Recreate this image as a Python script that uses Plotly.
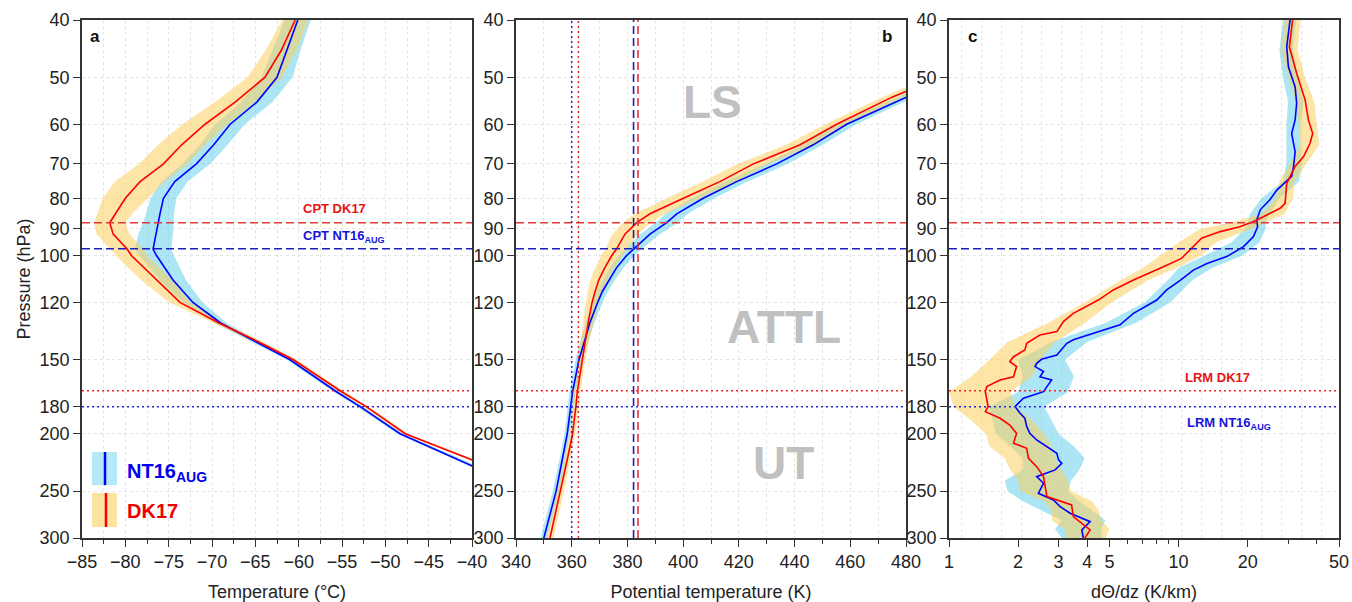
import numpy as np
import plotly.graph_objects as go

# ---------------- data ----------------
pressure_ticks = [40, 50, 60, 70, 80, 90, 100, 120, 150, 180, 200, 250, 300]

# Panel a: temperature (deg C)
p_a = [40, 45, 50, 55, 60, 65, 70, 75, 80, 85, 88, 92, 97.5, 100, 110,
       120, 130, 140, 150, 170, 180, 200, 226, 250, 300]
temp_nt16 = [-60.1, -61.4, -62.5, -64.8, -67.9, -69.8, -71.8, -74.3, -75.6, -76.0,
             -76.2, -76.5, -76.8, -76.4, -74.5, -72.2, -69.0, -64.9, -61.0, -55.6,
             -52.9, -48.3, -40.0, -33.5, -22.0]
temp_dk17 = [-60.4, -62.0, -63.9, -67.3, -70.8, -73.5, -75.6, -78.3, -80.0, -81.2,
             -81.8, -81.4, -79.8, -79.3, -76.4, -73.7, -69.2, -64.6, -60.6, -55.0,
             -52.2, -47.7, -38.4, -32.5, -21.0]
temp_sd_nt16 = [1.5, 1.6, 1.8, 1.8, 1.7, 1.6, 1.6, 1.5, 1.5, 1.6, 1.8, 2.0, 2.1, 2.0, 1.5,
                1.1, 0.7, 0.5, 0.4, 0.35, 0.35, 0.35, 0.35, 0.35, 0.35]
temp_sd_dk17 = [1.5, 1.8, 2.0, 2.3, 2.6, 2.7, 2.8, 2.9, 2.6, 2.0, 1.8, 1.9, 1.9, 1.8, 1.8,
                1.2, 0.6, 0.5, 0.4, 0.3, 0.3, 0.3, 0.3, 0.3, 0.3]

# Panel b: potential temperature (K)
p_b = [50, 54, 60, 65, 70, 75, 80, 85, 88, 92, 97.5, 100, 105, 110, 115, 120, 130, 140,
       150, 170, 180, 200, 220, 250, 300]
theta_nt16 = [496, 480, 458.7, 446.7, 433.6, 419.2, 407.2, 397.7, 394.1, 388.1, 382.1,
              379.7, 376.0, 373.3, 371.0, 369.3, 366.5, 364.5, 362.6, 360.3, 359.7, 358.4,
              356.7, 354.4, 350.0]
theta_dk17 = [492, 475, 455.1, 442.0, 425.2, 413.2, 400.1, 388.1, 383.3, 379.1, 376.1,
              374.4, 371.8, 369.7, 368.4, 367.3, 365.9, 364.8, 363.6, 362.0, 361.5, 360.3,
              358.5, 356.0, 352.2]
theta_sd_nt16 = [3, 3, 3.5, 3.5, 4, 4, 4, 4, 4, 3.5, 3, 2.8, 2.5, 2.2, 2.0, 1.8, 1.6, 1.4,
                 1.2, 1.1, 1.1, 1.0, 1.0, 1.2, 1.2]
theta_sd_dk17 = [3.5, 3.5, 4, 5, 5.5, 6, 6, 5.5, 5, 4.5, 4, 3.8, 3.4, 3, 2.6, 2.2, 1.8, 1.5,
                 1.2, 1.1, 1.1, 1.0, 1.0, 1.2, 1.2]

# Panel c: dTheta/dz (K/km)
p_c_nt16 = [40, 44.4, 48.0, 51.9, 55.3, 59.0, 62.2, 66.8, 70.7, 73.5,
            77.5, 80.5, 83.7, 87.1, 89.4, 92.9, 96.6, 100.4, 103.1, 105.8,
            110.0, 114.3, 118.9, 125.2, 130.9, 134.4, 138.8, 140.7, 147.2, 149.7,
            152.1, 154.0, 157.0, 160.2, 162.3, 166.5, 169.8, 174.2, 180.0, 184.7,
            188.3, 194.5, 199.7, 204.9, 210.2, 215.8, 221.4, 224.4, 230.2, 236.3,
            242.5, 252.1, 258.7, 265.5, 272.4, 281.5, 290.7, 300]
dth_nt16 = [30.6, 29.6, 30.1, 32.2, 32.7, 32.2, 31.1, 32.2, 31.7, 31.1,
            26.8, 25.0, 22.7, 21.9, 22.1, 21.2, 19.2, 16.2, 13.3, 11.6,
            10.2, 8.88, 8.04, 6.36, 5.56, 4.55, 3.48, 3.26, 2.95, 2.53,
            2.41, 2.37, 2.58, 2.49, 2.80, 2.67, 2.58, 2.11, 1.94, 2.04,
            2.14, 2.18, 2.25, 2.41, 2.67, 2.95, 3.00, 3.10, 2.90, 2.41,
            2.58, 2.45, 2.85, 3.05, 3.37, 4.12, 3.79, 3.85]
p_c_dk17 = [40, 44.4, 49.2, 54.6, 59.0, 62.2, 64.6, 68.1, 70.7, 75.5,
            81.6, 83.2, 86.5, 87.6, 89.4, 91.1, 93.5, 97.8, 101.1, 105.1,
            110.0, 114.3, 118.9, 125.2, 129.3, 134.4, 136.2, 140.7, 144.4, 148.2,
            151.1, 154.0, 160.2, 162.3, 166.5, 169.8, 174.2, 180.0, 183.5, 188.3,
            193.3, 199.7, 207.5, 211.6, 220.0, 227.3, 236.3, 245.7, 255.4, 263.8,
            276.1, 290.7, 300]
dth_dk17 = [31.4, 30.4, 32.7, 35.6, 36.8, 38.4, 37.4, 35.0, 32.2, 29.6,
            29.1, 27.7, 22.7, 21.2, 18.5, 15.2, 12.6, 11.2, 10.3, 8.31,
            6.36, 5.20, 4.47, 3.48, 3.15, 2.95, 2.49, 2.18, 2.14, 1.91,
            1.84, 1.97, 1.91, 1.67, 1.46, 1.44, 1.46, 1.48, 1.44, 1.67,
            1.84, 1.97, 1.91, 2.18, 2.22, 2.41, 2.58, 2.62, 2.67, 3.42,
            3.48, 4.12, 3.91]
p_band_c = [40, 45, 50, 55, 60, 65, 70, 75, 80, 85, 88, 90, 95, 100, 105, 110, 120, 130,
            140, 150, 160, 170, 180, 190, 200, 210, 220, 230, 240, 250, 260, 270, 280,
            290, 300]
band_lo_nt16 = [28.5, 27.5, 28.5, 30, 29.5, 29.5, 29.5, 28.5, 23, 20.5, 20, 19.5, 17, 13,
                10, 9, 7.1, 4.8, 2.8, 2.0, 2.1, 2.0, 1.5, 1.55, 1.6, 1.85, 2.1, 2.1, 1.75,
                1.8, 2.1, 2.55, 3.1, 2.9, 3.1]
band_hi_nt16 = [32.5, 31.5, 33, 35, 34, 34, 34.5, 33.5, 27.5, 25, 24, 24, 22.5, 19, 14,
                11.5, 9.2, 6.5, 4.0, 3.2, 3.5, 3.3, 2.6, 2.8, 3.0, 3.5, 3.9, 3.7, 3.4, 3.3,
                3.7, 4.2, 4.8, 4.6, 4.6]
band_lo_dk17 = [29, 28, 30, 32.5, 33.5, 34, 30.5, 27.5, 26.5, 23, 17, 12.5, 10, 8.3, 7.0,
                5.6, 3.9, 2.7, 1.8, 1.5, 1.25, 1.0, 1.05, 1.25, 1.45, 1.5, 1.75, 1.85, 2.0,
                2.05, 2.6, 2.8, 2.8, 3.2, 3.2]
band_hi_dk17 = [34, 33, 35.5, 39, 40, 41, 36, 32, 31.5, 29, 24, 21, 14.5, 12.5, 9.8, 7.4,
                5.1, 3.9, 2.9, 2.5, 2.3, 1.85, 1.95, 2.3, 2.6, 2.8, 2.9, 3.1, 3.3, 3.4, 4.2,
                4.5, 4.6, 5.0, 4.8]

# reference levels
cpt_p = {"DK17": 88.0, "NT16": 97.4}
lrm_p = {"DK17": 169.2, "NT16": 180.0}
cpt_theta = {"DK17": 383.8, "NT16": 382.2}
lrm_theta = {"DK17": 362.4, "NT16": 360.0}

# ---------------- style ----------------
BLUE = "#0000ff"
RED = "#ff0000"
CYAN_FILL = "rgba(90,205,235,0.5)"
YELLOW_FILL = "rgba(252,205,95,0.55)"
DASH_RED = "rgb(228,55,55)"
DASH_BLUE = "rgb(30,30,190)"
DOT_RED = "rgb(232,40,40)"
DOT_BLUE = "rgb(40,40,220)"
GRID = "#e4e4e4"
AX = "#333333"
FONT = "Liberation Sans, Arial, sans-serif"

fig = go.Figure()


def band(x_lo, x_hi, p, fill, xa, ya):
    xs = list(x_lo) + list(x_hi)[::-1]
    ys = list(p) + list(p)[::-1]
    fig.add_trace(go.Scatter(x=xs, y=ys, mode="lines", fill="toself", fillcolor=fill,
                             line=dict(width=0), hoverinfo="skip", showlegend=False,
                             xaxis=xa, yaxis=ya))


def line(x, p, color, xa, ya):
    fig.add_trace(go.Scatter(x=x, y=p, mode="lines", line=dict(color=color, width=1.6),
                             showlegend=False, xaxis=xa, yaxis=ya))


# panel a
tn, td = np.array(temp_nt16), np.array(temp_dk17)
sn, sd = np.array(temp_sd_nt16), np.array(temp_sd_dk17)
band(tn - sn, tn + sn, p_a, CYAN_FILL, "x", "y")
band(td - sd, td + sd, p_a, YELLOW_FILL, "x", "y")
line(temp_nt16, p_a, BLUE, "x", "y")
line(temp_dk17, p_a, RED, "x", "y")

# panel b
thn, thd = np.array(theta_nt16), np.array(theta_dk17)
tsn, tsd = np.array(theta_sd_nt16), np.array(theta_sd_dk17)
band(thn - tsn, thn + tsn, p_b, CYAN_FILL, "x2", "y2")
band(thd - tsd, thd + tsd, p_b, YELLOW_FILL, "x2", "y2")
line(theta_nt16, p_b, BLUE, "x2", "y2")
line(theta_dk17, p_b, RED, "x2", "y2")

# panel c
band(band_lo_nt16, band_hi_nt16, p_band_c, CYAN_FILL, "x3", "y3")
band(band_lo_dk17, band_hi_dk17, p_band_c, YELLOW_FILL, "x3", "y3")
line(dth_nt16, p_c_nt16, BLUE, "x3", "y3")
line(dth_dk17, p_c_dk17, RED, "x3", "y3")

# ---------------- axes ----------------
L, R, T, B = 82, 13, 20, 64
W, H = 1352, 602
pw = W - L - R
doms = [(82, 472), (516, 906), (949, 1339)]
doms = [((a - L) / pw, (b - L) / pw) for a, b in doms]

yr = [np.log10(300), np.log10(40)]
common_y = dict(type="log", range=yr, tickvals=pressure_ticks,
                ticktext=[str(v) for v in pressure_ticks], ticks="outside", ticklen=7,
                tickwidth=1.2, tickcolor=AX, showline=True, linecolor=AX, linewidth=1.5,
                mirror=True, showgrid=True, gridcolor=GRID, griddash="3px,3px",
                gridwidth=1, zeroline=False, tickfont=dict(size=18, color="#222"),
                domain=[0, 1], automargin=False)
common_x = dict(ticks="outside", ticklen=7, tickwidth=1.2, tickcolor=AX, showline=True,
                linecolor=AX, linewidth=1.5, mirror=True, zeroline=False,
                tickfont=dict(size=18, color="#222"), automargin=False,
                title_font=dict(size=18, color="#222"), title_standoff=15)

fig.update_layout(
    width=W, height=H, margin=dict(l=L, r=R, t=T, b=B),
    paper_bgcolor="white", plot_bgcolor="white",
    font=dict(family=FONT, size=18, color="#222"),
    showlegend=False,
    xaxis=dict(common_x, domain=doms[0], range=[-85, -40], tickmode="linear", tick0=-85,
               dtick=5, showgrid=True, gridcolor=GRID, griddash="3px,3px",
               minor=dict(dtick=2.5, tick0=-85, ticks="outside", ticklen=4, tickcolor=AX,
                          showgrid=True, gridcolor=GRID, griddash="3px,3px"),
               title_text="Temperature (°C)", anchor="y"),
    yaxis=dict(common_y, anchor="x", title_text="Pressure (hPa)",
               title_font=dict(size=18, color="#222"), title_standoff=4),
    xaxis2=dict(common_x, domain=doms[1], range=[340, 480], tickmode="linear", tick0=340,
                dtick=20, showgrid=True, gridcolor=GRID, griddash="3px,3px",
                minor=dict(dtick=10, tick0=340, ticks="outside", ticklen=4, tickcolor=AX,
                           showgrid=True, gridcolor=GRID, griddash="3px,3px"),
                title_text="Potential temperature (K)", anchor="y2"),
    yaxis2=dict(common_y, anchor="x2"),
    xaxis3=dict(common_x, domain=doms[2], type="log", range=[0, np.log10(50)],
                tickvals=[1, 2, 3, 4, 5, 10, 20, 50],
                ticktext=["1", "2", "3", "4", "5", "10", "20", "50"], showgrid=False,
                minor=dict(tickvals=[6, 7, 8, 9, 30, 40], ticks="outside", ticklen=4,
                           tickcolor=AX, showgrid=False),
                title_text="dΘ/dz (K/km)", anchor="y3"),
    yaxis3=dict(common_y, anchor="x3"),
)

shapes = []
# evenly spaced vertical grid in panel c (as in the original)
for k in range(20):
    xd = (12.7 + 20 * k) / 390
    if xd < 1:
        shapes.append(dict(type="line", xref="x3 domain", yref="y3 domain", x0=xd, x1=xd,
                           y0=0, y1=1, layer="below",
                           line=dict(color=GRID, width=1, dash="3px,3px")))

for xa, ya in [("x", "y"), ("x2", "y2"), ("x3", "y3")]:
    for key, col in [("DK17", DASH_RED), ("NT16", DASH_BLUE)]:
        shapes.append(dict(type="line", xref=f"{xa} domain", yref=ya, x0=0, x1=1,
                           y0=cpt_p[key], y1=cpt_p[key],
                           line=dict(color=col, width=1.6, dash="8px,4px")))
    for key, col in [("DK17", DOT_RED), ("NT16", DOT_BLUE)]:
        shapes.append(dict(type="line", xref=f"{xa} domain", yref=ya, x0=0, x1=1,
                           y0=lrm_p[key], y1=lrm_p[key],
                           line=dict(color=col, width=1.5, dash="2px,3px")))

for key, col in [("NT16", DOT_BLUE), ("DK17", DOT_RED)]:
    shapes.append(dict(type="line", xref="x2", yref="y2 domain", x0=lrm_theta[key],
                       x1=lrm_theta[key], y0=0, y1=1,
                       line=dict(color=col, width=1.5, dash="2px,3px")))
for key, col in [("NT16", DASH_BLUE), ("DK17", DASH_RED)]:
    shapes.append(dict(type="line", xref="x2", yref="y2 domain", x0=cpt_theta[key],
                       x1=cpt_theta[key], y0=0, y1=1,
                       line=dict(color=col, width=1.6, dash="8px,4px")))

# legend (drawn manually like the original)
shapes += [
    dict(type="rect", xref="x domain", yref="y domain", x0=0.0256, x1=0.0897, y0=0.102,
         y1=0.166, fillcolor="#b5e9f5", line=dict(width=0), layer="above"),
    dict(type="line", xref="x domain", yref="y domain", x0=0.059, x1=0.059, y0=0.102,
         y1=0.166, line=dict(color=BLUE, width=2.5)),
    dict(type="rect", xref="x domain", yref="y domain", x0=0.0256, x1=0.0897, y0=0.0212,
         y1=0.0869, fillcolor="#fde3a0", line=dict(width=0), layer="above"),
    dict(type="line", xref="x domain", yref="y domain", x0=0.0615, x1=0.0615, y0=0.0212,
         y1=0.0869, line=dict(color=RED, width=2.5)),
]
fig.update_layout(shapes=shapes)

ann = []


def add_text(text, xref, yref, x, y, size, color, xanchor="left", yanchor="middle"):
    ann.append(dict(text=text, xref=xref, yref=yref, x=x, y=y, showarrow=False,
                    xanchor=xanchor, yanchor=yanchor,
                    font=dict(family=FONT, size=size, color=color)))


add_text("<b>a</b>", "x domain", "y domain", 0.016, 0.969, 17, "#111")
add_text("<b>b</b>", "x2 domain", "y2 domain", 0.968, 0.969, 17, "#111", xanchor="right")
add_text("<b>c</b>", "x3 domain", "y3 domain", 0.044, 0.969, 17, "#111")

add_text("<b>CPT DK17</b>", "x domain", "y domain", 0.561, 0.637, 13, "rgb(230,20,20)")
add_text("<b>CPT NT16<sub>AUG</sub></b>", "x domain", "y domain", 0.561, 0.583, 13,
         "rgb(20,20,220)")
add_text("<b>LRM DK17</b>", "x3 domain", "y3 domain", 0.600, 0.310, 13, "rgb(230,20,20)")
add_text("<b>LRM NT16<sub>AUG</sub></b>", "x3 domain", "y3 domain", 0.604, 0.222, 13,
         "rgb(20,20,220)")

add_text("<b>LS</b>", "x2 domain", "y2 domain", 0.505, 0.842, 46, "#c0c0c0", xanchor="center")
add_text("<b>ATTL</b>", "x2 domain", "y2 domain", 0.687, 0.408, 46, "#c0c0c0",
         xanchor="center")
add_text("<b>UT</b>", "x2 domain", "y2 domain", 0.687, 0.145, 46, "#c0c0c0", xanchor="center")

add_text("<b>NT16<sub>AUG</sub></b>", "x domain", "y domain", 0.110, 0.127, 20, "#0000ee")
add_text("<b>DK17</b>", "x domain", "y domain", 0.110, 0.0527, 20, "#ee0000")

fig.update_layout(annotations=ann)

fig.write_html("out.html")
